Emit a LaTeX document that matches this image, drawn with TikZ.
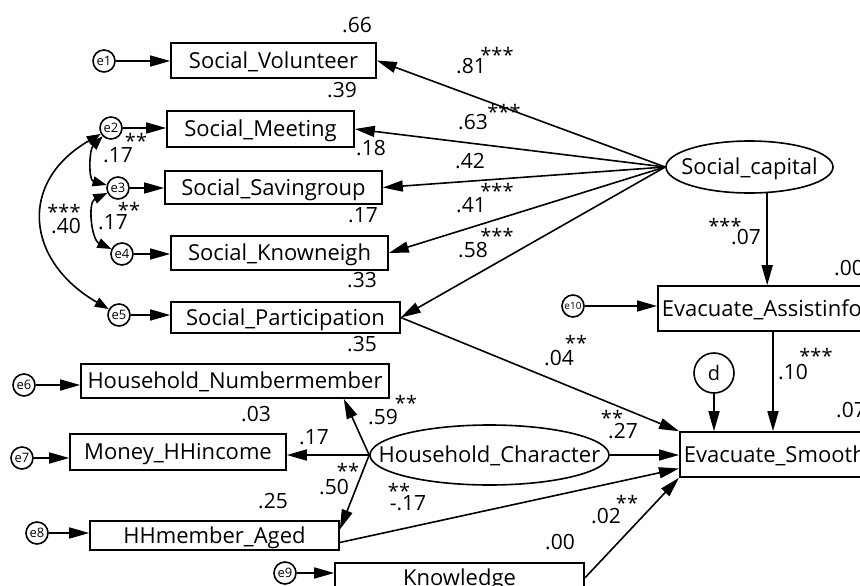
\documentclass[tikz,border=0pt]{standalone}
\usepackage{fontspec}
\setmainfont{Open Sans}
\usetikzlibrary{arrows.meta,shapes.geometric}

\begin{document}
\begin{tikzpicture}[x=1pt,y=1pt,
  obs/.style={draw,line width=1.6pt,inner sep=0pt,text height=15.7pt,text depth=0pt,font=\fontsize{22}{22}\selectfont},
  lat/.style={draw,ellipse,line width=1.6pt,inner sep=0pt,text height=15.7pt,text depth=0pt,font=\fontsize{22}{22}\selectfont},
  err/.style={draw,circle,line width=1.6pt,minimum size=22pt,inner sep=0pt,font=\fontsize{13}{13}\selectfont},
  reg/.style={line width=1.6pt,-{Triangle[length=20pt,width=11pt]}},
  cov/.style={line width=1.6pt,{Triangle[length=14pt,width=10pt]}-{Triangle[length=14pt,width=10pt]}},
  num/.style={inner sep=0pt,text height=15pt,text depth=0pt,font=\fontsize{21}{21}\selectfont},
  sig/.style={inner sep=0pt,anchor=base,yshift=-10pt,font=\fontsize{20}{20}\selectfont}]
\path[use as bounding box,clip] (0,0) rectangle (860,-586);

% observed variables
\node[obs,minimum width=205pt,minimum height=35pt] (vol) at (273.5,-60.5) {Social\_Volunteer};
\node[obs,minimum width=187pt,minimum height=36pt] (meet) at (260.5,-129) {Social\_Meeting};
\node[obs,minimum width=217pt,minimum height=33pt] (save) at (273.5,-187.5) {Social\_Savingroup};
\node[obs,minimum width=217pt,minimum height=34pt] (know) at (279.5,-253) {Social\_Knowneigh};
\node[obs,minimum width=229pt,minimum height=31pt] (part) at (285.5,-317.5) {Social\_Participation};
\node[obs,minimum width=308pt,minimum height=34pt] (numb) at (235,-381) {Household\_Numbermember};
\node[obs,minimum width=216pt,minimum height=36pt] (money) at (178,-452) {Money\_HHincome};
\node[obs,minimum width=249pt,minimum height=29pt] (aged) at (214.5,-535.5) {HHmember\_Aged};
\node[obs,minimum width=249pt,minimum height=30pt] (knowl) at (459.5,-578) {Knowledge};
\node[obs,anchor=west,inner xsep=4pt,minimum height=45pt] (assist) at (657,-308.5) {Evacuate\_Assistinfo};
\node[obs,anchor=west,inner xsep=4pt,minimum height=45pt] (smooth) at (679,-454.5) {Evacuate\_Smooth};

% latent variables
\node[lat,minimum width=167pt,minimum height=52pt] (cap) at (749.5,-167) {\makebox[0pt]{Social\_capital}};
\node[lat,minimum width=239pt,minimum height=60pt] (hh) at (489.5,-455) {\makebox[0pt]{Household\_Character}};

% error terms
\node[err] (e1) at (104,-61) {e1};
\node[err] (e2) at (111,-128) {e2};
\node[err] (e3) at (118,-188) {e3};
\node[err] (e4) at (122,-254) {e4};
\node[err] (e5) at (119,-315) {e5};
\node[err] (e6) at (24,-385) {e6};
\node[err] (e7) at (22,-458) {e7};
\node[err] (e8) at (37,-533) {e8};
\node[err] (e9) at (285,-573) {e9};
\node[err,font=\fontsize{10}{10}\selectfont] (e10) at (573,-306) {e10};
\node[err,minimum size=40pt,font=\fontsize{20}{20}\selectfont] (d) at (714,-373) {d};

\draw[reg] (e1) -- (e1 -| vol.west);
\draw[reg] (e2) -- (e2 -| meet.west);
\draw[reg] (e3) -- (e3 -| save.west);
\draw[reg] (e4) -- (e4 -| know.west);
\draw[reg] (e5) -- (e5 -| part.west);
\draw[reg] (e6) -- (e6 -| numb.west);
\draw[reg] (e7) -- (e7 -| money.west);
\draw[reg] (e8) -- (e8 -| aged.west);
\draw[reg] (e9) -- (e9 -| knowl.west);
\draw[reg] (e10) -- (e10 -| assist.west);
\draw[reg] (d) -- (d |- smooth.north);

% covariances
\draw[cov] (e2) to[out=225,in=165] (e3);
\draw[cov] (e3) to[out=205,in=155] (e4);
\draw[cov] (e2) to[out=210,in=150,looseness=1.4] (e5);

% loadings
\draw[reg] (cap.west) -- (vol.east);
\draw[reg] (cap.west) -- (meet.east);
\draw[reg] (cap.west) -- (save.east);
\draw[reg] (cap.west) -- (know.east);
\draw[reg] (cap.west) -- (part.east);
\draw[reg] (hh.west) -- ([xshift=-46pt]numb.south east);
\draw[reg] (hh.west) -- (hh.west -| money.east);
\draw[reg] (hh.west) -- ([yshift=6pt]aged.east);

% structural paths
\coordinate (aflow) at ([xshift=116pt]assist.south west);
\draw[reg] (cap.-56) -- (cap.-56 |- assist.north);
\draw[reg] (aflow) -- (aflow |- smooth.north);
\draw[reg] (part.east) -- (smooth.north west);
\draw[reg] (hh.east) -- (hh.east -| smooth.west);
\draw[reg] ([yshift=-7pt]aged.east) -- ([yshift=-14pt]smooth.west);
\draw[reg] (knowl.east) -- (smooth.south west);

% estimates
\node[num] at (357,-25) {.66};
\node[num] at (342,-90) {.39};
\node[num] at (371,-148) {.18};
\node[num] at (363,-215) {.17};
\node[num] at (362,-280) {.33};
\node[num] at (362,-344) {.35};
\node[num] at (256,-414) {.03};
\node[num] at (273,-501) {.25};
\node[num] at (560,-542) {.00};
\node[num] at (849,-268) {.00};
\node[num] at (851,-410) {.07};
\node[num] at (471,-66) {.81};
\node[sig] at (497,-53) {***};
\node[num] at (473,-122) {.63};
\node[sig] at (504,-110) {***};
\node[num] at (470,-161) {.42};
\node[sig] at (497,-188) {***};
\node[num] at (471,-205) {.41};
\node[sig] at (497,-233) {***};
\node[num] at (473,-250) {.58};
\node[sig] at (725,-223) {***};
\node[num] at (746,-237) {.07};
\node[sig] at (576,-340) {**};
\node[num] at (559,-358) {.04};
\node[num] at (793,-372) {.10};
\node[sig] at (816,-353) {***};
\node[sig] at (612,-415) {**};
\node[num] at (623,-431) {.27};
\node[sig] at (399,-488) {**};
\node[num] at (408,-503) {-.17};
\node[sig] at (627,-500) {**};
\node[num] at (606,-516) {.02};
\node[num] at (383,-417) {.59};
\node[sig] at (406,-400) {**};
\node[num] at (314,-437) {.17};
\node[sig] at (348,-468) {**};
\node[num] at (334,-487) {.50};
\node[sig] at (136,-138) {**};
\node[num] at (118,-155) {.17};
\node[sig] at (129,-207) {**};
\node[num] at (113,-222) {.17};
\node[sig] at (64,-209) {***};
\node[num] at (66,-226) {.40};
\end{tikzpicture}
\end{document}
